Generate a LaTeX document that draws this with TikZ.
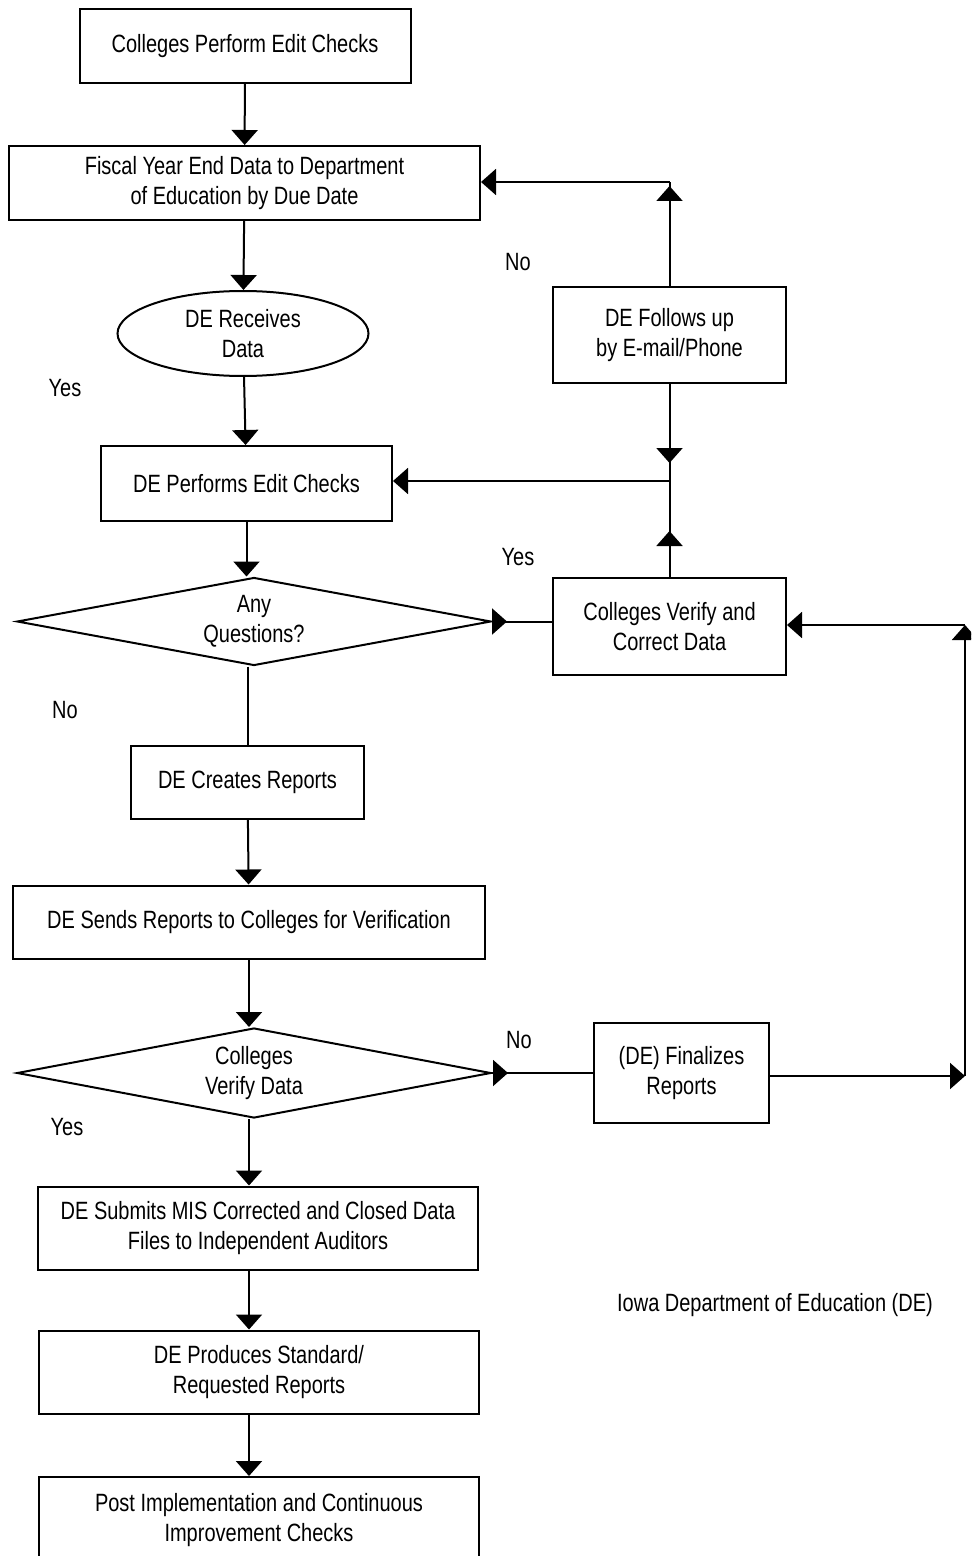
\documentclass[tikz,border=0pt]{standalone}
\usepackage{fontspec}
\setmainfont{Liberation Sans}[FakeStretch=0.8]
\usetikzlibrary{shapes.geometric,arrows.meta,decorations.markings}

\tikzset{midflow/.style={line width=1pt,postaction={decorate},
  decoration={markings,mark=at position #1 with {\arrow{Triangle[width=13pt,length=7.5pt]}}}}}

\begin{document}
\begin{tikzpicture}[x=0.5pt,y=-0.5pt]
\tikzstyle{proc}=[draw,line width=1pt,align=center,inner sep=0pt,font=\fontsize{12.5}{15}\selectfont];
\tikzstyle{dec}=[proc,diamond,aspect=5.35];
\tikzstyle{term}=[proc,ellipse];
\tikzstyle{answer}=[font=\fontsize{12.5}{15}\selectfont];
\tikzstyle{flow}=[line width=1pt,-{Triangle[width=13pt,length=7.5pt]}];
\tikzstyle{link}=[line width=1pt];
\clip (0,0) rectangle (971,1556);
% main column
\node [proc,minimum width=165.5pt,minimum height=37pt] (cpe) at (245,46) {Colleges Perform Edit Checks};
\node [proc,minimum width=235.5pt,minimum height=37pt] (fye) at (244.5,183) {Fiscal Year End Data to Department\\of Education by Due Date};
\node [term,minimum width=125.5pt,minimum height=42.5pt] (dre) at (243,333.5) {DE Receives\\Data};
\node [proc,minimum width=145.5pt,minimum height=37.5pt] (dpe) at (246.5,483.5) {DE Performs Edit Checks};
\node [dec,minimum width=237pt,minimum height=44pt] (anyq) at (254,621.5) {Any\\Questions?};
\node [proc,minimum width=116.5pt,minimum height=36.5pt] (dcr) at (247.5,782) {DE Creates Reports};
\node [proc,minimum width=236pt,minimum height=36.5pt] (dsr) at (249,922) {DE Sends Reports to Colleges for Verification};
\node [dec,minimum width=237pt,minimum height=45pt] (cvd) at (254,1073) {Colleges\\Verify Data};
\node [proc,minimum width=220pt,minimum height=41.5pt] (dsm) at (258,1228) {DE Submits MIS Corrected and Closed Data\\Files to Independent Auditors};
\node [proc,minimum width=220pt,minimum height=41.5pt] (dps) at (259,1372) {DE Produces Standard/\\Requested Reports};
\node [proc,minimum width=220pt,minimum height=43pt] (pic) at (259,1520) {Post Implementation and Continuous\\Improvement Checks};
% right column
\node [proc,minimum width=116.5pt,minimum height=48pt] (dfu) at (669.5,335) {DE Follows up\\by E-mail/Phone};
\node [proc,minimum width=116.5pt,minimum height=48.5pt] (cvc) at (669.5,626.5) {Colleges Verify and\\Correct Data};
\node [proc,minimum width=87.5pt,minimum height=50pt] (fin) at (681.5,1073) {(DE) Finalizes\\Reports};
% answers
\node [answer] (no1) at (518,262) {No};
\node [answer] (yes1) at (65,388) {Yes};
\node [answer] (yes2) at (518,557) {Yes};
\node [answer] (no2) at (65,710) {No};
\node [answer] (no3) at (519,1040) {No};
\node [answer] (yes3) at (67,1127) {Yes};
\node [answer] (iowa) at (775,1305) {Iowa Department of Education (DE)};
\coordinate (jn) at (669.5,481);
\coordinate (kn) at (669.5,182);
\coordinate (rb) at (965,1076);
\coordinate (rt) at (965,625);
% flow down
\draw [flow] (cpe) -- (fye);
\draw [flow] (fye) -- (dre);
\draw [flow] (dre) -- (dpe);
\draw [flow] (dpe.south) -- (dpe.south |- anyq.north);
\draw [link] (dcr.north |- anyq.south) -- (dcr.north);
\draw [flow] (dcr) -- (dsr);
\draw [flow] (dsr.south) -- (dsr.south |- cvd.north);
\draw [flow] (dsr.south |- cvd.south) -- (dsr.south |- dsm.north);
\draw [flow] (dsr.south |- dsm.south) -- (dsr.south |- dps.north);
\draw [flow] (dsr.south |- dps.south) -- (dsr.south |- pic.north);
% loops
\draw [midflow=7.5pt] (anyq.east) -- (anyq.east -| cvc.west);
\draw [midflow=23pt] (cvc.north) -- (jn);
\draw [midflow=39.5pt] (dfu.south) -- (jn);
\draw [flow] (jn) -- (jn -| dpe.east);
\draw [midflow=50pt] (dfu.north) -- (kn);
\draw [flow] (kn) -- (kn -| fye.east);
\draw [midflow=8pt] (cvd.east) -- (cvd.east -| fin.west);
\draw [flow] (fin.east |- rb) -- (rb);
\draw [flow] (rb) -- (rt);
\draw [flow] (rt) -- (rt -| cvc.east);
\end{tikzpicture}
\end{document}
